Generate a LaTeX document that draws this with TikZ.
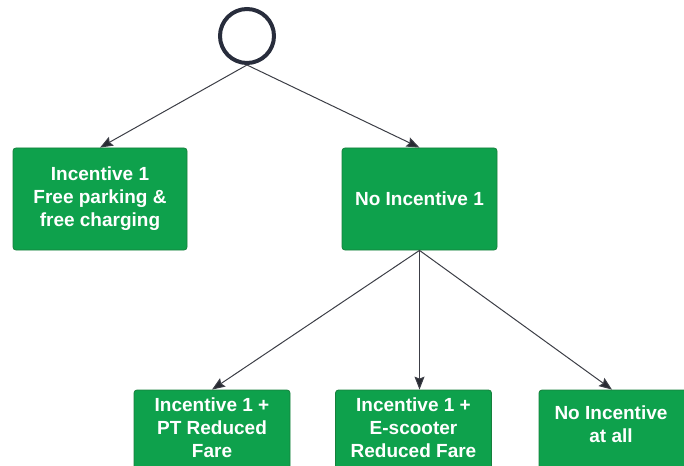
\documentclass[tikz,border=0pt]{standalone}
\usepackage{fontspec}
\setmainfont{Liberation Sans}
\usetikzlibrary{arrows.meta}

\definecolor{boxgreen}{RGB}{14,161,76}
\definecolor{boxedge}{RGB}{22,128,60}
\definecolor{linegray}{RGB}{60,62,70}
\definecolor{tipgray}{RGB}{40,42,50}
\definecolor{ringnavy}{RGB}{40,45,60}

\tikzset{
  choice/.style={draw=boxedge, line width=0.8pt, fill=boxgreen, rounded corners=3pt,
    text=white, font=\fontsize{19}{23}\selectfont\bfseries, align=center,
    inner sep=0pt},
  label/.style={text=white, font=\fontsize{19}{23}\selectfont\bfseries, align=center,
    anchor=north, inner sep=0pt},
  link/.style={draw=linegray, line width=1pt,
    -{Stealth[length=13pt, width=10pt, inset=2pt, fill=tipgray]}}
}

\begin{document}
\begin{tikzpicture}[x=1pt, y=-1pt]
  % =======================================================
  % CANVAS
  % =======================================================
  \useasboundingbox (0,0) rectangle (684,465);
  \clip (0,0) rectangle (684,465);

  % =======================================================
  % 1. Start point
  % =======================================================
  \node[circle, draw=ringnavy, line width=4pt, fill=white, minimum size=54pt,
        inner sep=0pt] (start) at (247,36) {};

  % =======================================================
  % 2. First split
  % =======================================================
  \node[choice, minimum width=174pt, minimum height=102pt] (freepark) at (100,199)
    {Incentive 1\\Free parking \&\\free charging};
  \node[choice, minimum width=155pt, minimum height=102pt] (noinc) at (419.5,199)
    {No Incentive 1};

  \draw[link] (start.south) -- (freepark.north);
  \draw[link] (start.south) -- (noinc.north);

  % =======================================================
  % 3. Second split (below "No Incentive 1")
  % =======================================================
  \node[choice, minimum width=156pt, minimum height=100pt] (ptfare) at (212,440) {};
  \node[label] (ptfaretxt) at (212,398) {Incentive 1 +\\PT Reduced\\Fare};

  \node[choice, minimum width=156pt, minimum height=100pt] (scooter) at (413.5,440) {};
  \node[label] (scootertxt) at (413.5,398) {Incentive 1 +\\E-scooter\\Reduced Fare};

  \node[choice, minimum width=156pt, minimum height=100pt] (noneatall) at (617,440) {};
  \node[label] (noneatalltxt) at (611,406) {No Incentive\\at all};

  \draw[link] (noinc.south) -- (ptfare.north);
  \draw[link] (noinc.south) -- (noinc.south |- scooter.north);
  \draw[link] (noinc.south) -- ([xshift=-5pt]noneatall.north);

\end{tikzpicture}
\end{document}
